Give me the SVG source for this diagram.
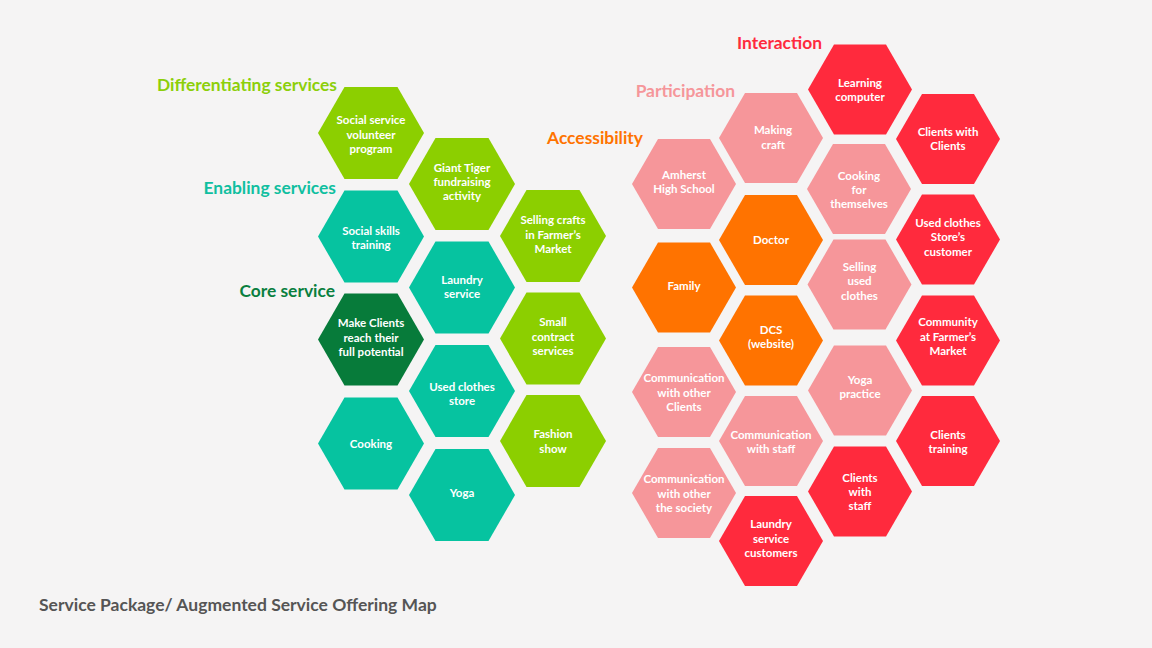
<svg xmlns="http://www.w3.org/2000/svg" xmlns:xlink="http://www.w3.org/1999/xlink" width="1152" height="648" viewBox="0 0 1152 648">
<style>
.bg{fill:#f5f4f4}
.lg{fill:#8ccf00}.tl{fill:#06c3a0}.dg{fill:#077b3a}
.pk{fill:#f6969a}.or{fill:#ff7300}.rd{fill:#ff2a3d}
.t{font-family:Lato,"Open Sans",sans-serif;font-weight:700;font-size:11.5px;fill:#ffffff;text-anchor:middle}
.h{font-family:Lato,"Open Sans",sans-serif;font-weight:700;font-size:17.4px}
.ttl{font-family:Lato,"Open Sans",sans-serif;font-weight:700;font-size:17.5px;fill:#555555}
</style>
<defs>
<polygon id="hexL" points="-53,0 -26.5,-46 26.5,-46 53,0 26.5,46 -26.5,46"/>
<polygon id="hexR" points="-52,0 -26,-45 26,-45 52,0 26,45 -26,45"/>
</defs>
<rect class="bg" x="0" y="0" width="1152" height="648"/>
<g id="labels">
<text class="h" x="337" y="91" text-anchor="end" fill="#8ccf0a">Differentiating services</text>
<text class="h" x="336" y="194" text-anchor="end" fill="#10bfa0">Enabling services</text>
<text class="h" x="335" y="297" text-anchor="end" fill="#0a7f3f">Core service</text>
<text class="h" x="643" y="144" text-anchor="end" fill="#ff7300">Accessibility</text>
<text class="h" x="735" y="97" text-anchor="end" fill="#f5969a">Participation</text>
<text class="h" x="822" y="49" text-anchor="end" fill="#ff2a3d">Interaction</text>
<text class="ttl" x="39" y="611">Service Package/ Augmented Service Offering Map</text>
</g>
<g id="connectors"></g>
<!-- left -->
<g id="n-social-volunteer"><use href="#hexL" x="371" y="133" class="lg"/><text class="t" x="371"><tspan x="371" y="124">Social service</tspan><tspan x="371" y="139">volunteer</tspan><tspan x="371" y="153">program</tspan></text></g>
<g id="n-social-skills"><use href="#hexL" x="371" y="236.5" class="tl"/><text class="t"><tspan x="371" y="235">Social skills</tspan><tspan x="371" y="249">training</tspan></text></g>
<g id="n-make-clients"><use href="#hexL" x="371" y="339.5" class="dg"/><text class="t"><tspan x="371" y="327">Make Clients</tspan><tspan x="371" y="342">reach their</tspan><tspan x="371" y="356">full potential</tspan></text></g>
<g id="n-cooking"><use href="#hexL" x="371" y="443.5" class="tl"/><text class="t" x="371" y="448">Cooking</text></g>
<g id="n-giant-tiger"><use href="#hexL" x="462" y="184" class="lg"/><text class="t"><tspan x="462" y="172">Giant Tiger</tspan><tspan x="462" y="186">fundraising</tspan><tspan x="462" y="200">activity</tspan></text></g>
<g id="n-laundry"><use href="#hexL" x="462" y="287.5" class="tl"/><text class="t"><tspan x="462" y="284">Laundry</tspan><tspan x="462" y="298">service</tspan></text></g>
<g id="n-used-clothes"><use href="#hexL" x="462" y="391" class="tl"/><text class="t"><tspan x="462" y="391">Used clothes</tspan><tspan x="462" y="405">store</tspan></text></g>
<g id="n-yoga"><use href="#hexL" x="462" y="495" class="tl"/><text class="t" x="462" y="497">Yoga</text></g>
<g id="n-selling-crafts"><use href="#hexL" x="553" y="236" class="lg"/><text class="t"><tspan x="553" y="224">Selling crafts</tspan><tspan x="553" y="239">in Farmer’s</tspan><tspan x="553" y="253">Market</tspan></text></g>
<g id="n-small-contract"><use href="#hexL" x="553" y="338.5" class="lg"/><text class="t"><tspan x="553" y="326">Small</tspan><tspan x="553" y="341">contract</tspan><tspan x="553" y="355">services</tspan></text></g>
<g id="n-fashion"><use href="#hexL" x="553" y="441" class="lg"/><text class="t"><tspan x="553" y="438">Fashion</tspan><tspan x="553" y="453">show</tspan></text></g>
<!-- right -->
<g id="n-amherst"><use href="#hexR" x="684" y="184" class="pk"/><text class="t"><tspan x="684" y="179">Amherst</tspan><tspan x="684" y="193">High School</tspan></text></g>
<g id="n-family"><use href="#hexR" x="684" y="287.5" class="or"/><text class="t" x="684" y="290">Family</text></g>
<g id="n-comm-clients"><use href="#hexR" x="684" y="392" class="pk"/><text class="t"><tspan x="684" y="382">Communication</tspan><tspan x="684" y="397">with other</tspan><tspan x="684" y="411">Clients</tspan></text></g>
<g id="n-comm-society"><use href="#hexR" x="684" y="493" class="pk"/><text class="t"><tspan x="684" y="483">Communication</tspan><tspan x="684" y="498">with other</tspan><tspan x="684" y="512">the society</tspan></text></g>
<g id="n-making-craft"><use href="#hexR" x="771" y="138" class="pk"/><text class="t"><tspan x="773" y="134">Making</tspan><tspan x="773" y="149">craft</tspan></text></g>
<g id="n-doctor"><use href="#hexR" x="771" y="240" class="or"/><text class="t" x="771" y="244">Doctor</text></g>
<g id="n-dcs"><use href="#hexR" x="771" y="340.5" class="or"/><text class="t"><tspan x="771" y="334">DCS</tspan><tspan x="771" y="348">(website)</tspan></text></g>
<g id="n-comm-staff"><use href="#hexR" x="771" y="441" class="pk"/><text class="t"><tspan x="771" y="439">Communication</tspan><tspan x="771" y="453">with staff</tspan></text></g>
<g id="n-laundry-customers"><use href="#hexR" x="771" y="541" class="rd"/><text class="t"><tspan x="771" y="528">Laundry</tspan><tspan x="771" y="543">service</tspan><tspan x="771" y="557">customers</tspan></text></g>
<g id="n-learning"><use href="#hexR" x="860" y="89.5" class="rd"/><text class="t"><tspan x="860" y="87">Learning</tspan><tspan x="860" y="101">computer</tspan></text></g>
<g id="n-cooking-themselves"><use href="#hexR" x="859" y="189" class="pk"/><text class="t"><tspan x="859" y="180">Cooking</tspan><tspan x="859" y="194">for</tspan><tspan x="859" y="208">themselves</tspan></text></g>
<g id="n-selling-used"><use href="#hexR" x="859.5" y="284.5" class="pk"/><text class="t"><tspan x="859.5" y="271">Selling</tspan><tspan x="859.5" y="285">used</tspan><tspan x="859.5" y="300">clothes</tspan></text></g>
<g id="n-yoga-practice"><use href="#hexR" x="860" y="390.5" class="pk"/><text class="t"><tspan x="860" y="384">Yoga</tspan><tspan x="860" y="398">practice</tspan></text></g>
<g id="n-clients-staff"><use href="#hexR" x="860" y="491.5" class="rd"/><text class="t"><tspan x="860" y="482">Clients</tspan><tspan x="860" y="496">with</tspan><tspan x="860" y="510">staff</tspan></text></g>
<g id="n-clients-clients"><use href="#hexR" x="948" y="139" class="rd"/><text class="t"><tspan x="948" y="136">Clients with</tspan><tspan x="948" y="150">Clients</tspan></text></g>
<g id="n-store-customer"><use href="#hexR" x="948" y="239.5" class="rd"/><text class="t"><tspan x="948" y="227">Used clothes</tspan><tspan x="948" y="241">Store’s</tspan><tspan x="948" y="256">customer</tspan></text></g>
<g id="n-community"><use href="#hexR" x="948" y="340.5" class="rd"/><text class="t"><tspan x="948" y="326">Community</tspan><tspan x="948" y="341">at Farmer’s</tspan><tspan x="948" y="355">Market</tspan></text></g>
<g id="n-clients-training"><use href="#hexR" x="948" y="441" class="rd"/><text class="t"><tspan x="948" y="439">Clients</tspan><tspan x="948" y="453">training</tspan></text></g>
</svg>
